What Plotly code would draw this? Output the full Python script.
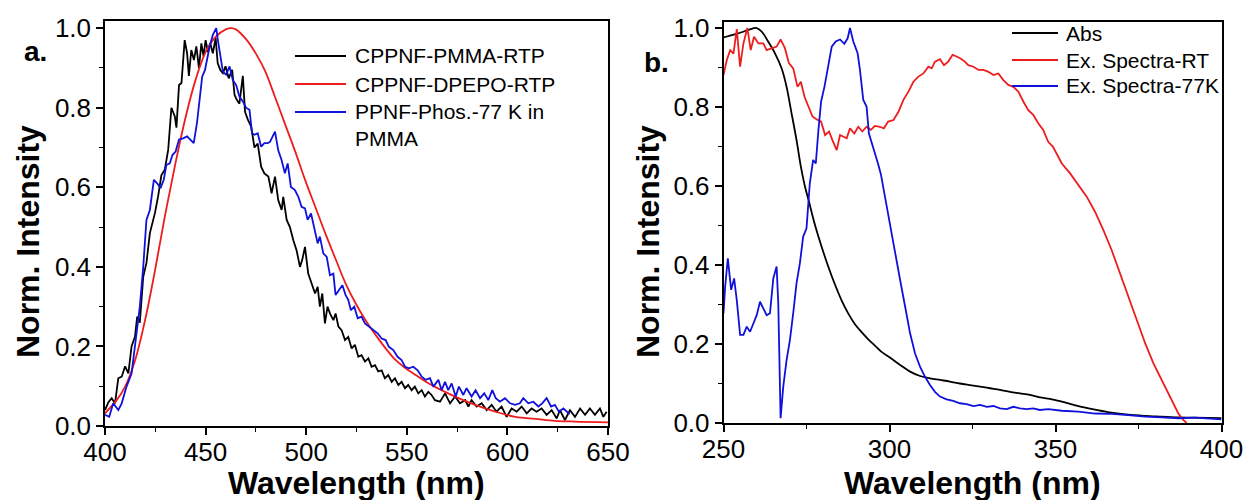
import plotly.graph_objects as go

# ---------------- Panel a (emission) ----------------
A_PMMA_RTP = [(400,0.04),(401.7,0.06),(403.3,0.07),(405,0.057),(406.6,0.12),(408.3,0.124),(410,0.15),(411.6,0.132),
 (413.2,0.20),(414.9,0.225),(416,0.275),(417.3,0.26),(419,0.375),(420.6,0.41),(422.3,0.485),(423.6,0.51),(424.8,0.535),
 (426.4,0.577),(428,0.63),(429.7,0.644),(431.4,0.694),(433,0.80),(434.7,0.778),(435.5,0.75),(436.8,0.857),(438,0.862),
 (439.6,0.97),(440.8,0.937),(441.7,0.88),(442.9,0.945),(444.2,0.92),(445.4,0.954),(446.7,0.90),(447.9,0.962),(449,0.929),
 (450,0.97),(451.2,0.94),(452.3,0.962),(453.6,0.937),(455,0.975),(456,0.912),(457.3,0.895),(458.6,0.887),(459.9,0.904),
 (461.5,0.874),(463.2,0.895),(464.4,0.832),(465.5,0.82),(466.8,0.81),(468.5,0.88),(469.6,0.79),(471,0.77),(472.6,0.753),
 (474.3,0.70),(475.9,0.71),(477.6,0.652),(479.2,0.635),(481.2,0.627),(482.8,0.585),(484.5,0.627),(486.1,0.568),
 (487.8,0.543),(488.6,0.576),(490.3,0.518),(491.9,0.50),(493.6,0.467),(495.2,0.442),(496.9,0.40),(498,0.417),(499.4,0.45),
 (501,0.383),(502.7,0.358),(504.4,0.333),(505.7,0.35),(506.8,0.30),(508,0.333),(509.3,0.258),(510.6,0.30),(511.8,0.283),
 (513.5,0.266),(514.6,0.283),(516,0.25),(517.6,0.241),(519.3,0.216),(520.9,0.224),(522.6,0.195),(524.2,0.204),
 (525.9,0.174),(527.5,0.178),(529.2,0.162),(530.9,0.17),(532.5,0.149),(534.2,0.153),(535.8,0.137),(537.5,0.14),
 (539.1,0.12),(540.8,0.128),(542.5,0.111),(544.1,0.12),(545.8,0.103),(547.4,0.111),(549.1,0.095),(550.7,0.103),
 (552.4,0.09),(554,0.099),(555.7,0.082),(557.4,0.09),(559,0.074),(560.7,0.086),(562.3,0.078),(564,0.065),(566.5,0.061),
 (569,0.082),(571.5,0.057),(574,0.074),(576.4,0.057),(579,0.065),(580.6,0.049),(582.2,0.065),(584.7,0.049),(587.2,0.057),
 (589.7,0.04),(592.2,0.053),(594.6,0.036),(597.1,0.049),(599.6,0.023),(602.1,0.044),(604.6,0.036),(607.1,0.049),
 (609.6,0.032),(612,0.044),(614.5,0.036),(617,0.044),(619.5,0.028),(622,0.04),(624.5,0.019),(626.1,0.04),(628.6,0.015),
 (631.1,0.04),(633.6,0.023),(636.1,0.044),(638.6,0.028),(641,0.044),(643.5,0.028),(646,0.044),(647.7,0.023),(649.3,0.036)]

A_DPEPO_RTP = [(400,0.032),(405.8,0.065),(410,0.099),(415,0.166),(420,0.268),(425,0.395),(430,0.534),(435,0.66),
 (440,0.775),(445,0.87),(450,0.94),(455,0.978),(460,0.997),(463,1.0),(465,0.997),(470,0.973),(475,0.936),(479.5,0.893),
 (484.5,0.827),(489.4,0.76),(494.6,0.689),(499.5,0.618),(504.5,0.551),(509.5,0.484),(514.5,0.421),(519.6,0.358),
 (524.6,0.308),(529.5,0.266),(534.5,0.229),(539.5,0.195),(544.4,0.166),(549.4,0.145),(554.4,0.128),(559.5,0.111),
 (564.5,0.097),(574,0.074),(584,0.053),(594,0.036),(604,0.023),(614,0.018),(623.6,0.013),(633.6,0.011),(650,0.009)]

A_PHOS_77K = [(400,0.028),(402.1,0.023),(404.1,0.057),(406.6,0.04),(408.3,0.057),(410.7,0.099),(413.2,0.132),
 (415.7,0.241),(417.3,0.30),(419,0.40),(420.6,0.518),(422.3,0.543),(424.3,0.619),(425.9,0.61),(427.6,0.598),(429.2,0.619),
 (430.5,0.656),(432.2,0.66),(433.5,0.681),(435.1,0.69),(436.8,0.72),(438.8,0.723),(440.8,0.728),(442.4,0.72),(444.1,0.711),
 (445.7,0.761),(447,0.816),(448.3,0.878),(449.7,0.895),(450.7,0.92),(452,0.954),(453.6,0.983),(455.3,1.0),(456.1,0.97),
 (457.3,0.929),(458.6,0.891),(460.2,0.883),(461.9,0.904),(463.5,0.87),(465.2,0.857),(466.8,0.828),(468.5,0.816),
 (470.1,0.80),(471.8,0.795),(473.1,0.736),(474.3,0.732),(475.9,0.736),(477.6,0.702),(479.2,0.711),(480.9,0.711),
 (482,0.714),(484.5,0.74),(486.1,0.693),(487.8,0.668),(489.4,0.635),(490.8,0.66),(492.4,0.601),(494.4,0.593),
 (496.1,0.576),(497.7,0.551),(499.4,0.547),(500.7,0.518),(502.4,0.534),(504,0.50),(505.7,0.459),(506.8,0.476),
 (508.5,0.434),(510.2,0.425),(511.8,0.379),(513.5,0.383),(514.6,0.329),(516.3,0.342),(518,0.354),(519.6,0.329),
 (520.9,0.317),(522.2,0.291),(523.9,0.30),(525.6,0.271),(527.5,0.275),(529.2,0.258),(531.2,0.25),(533.3,0.241),
 (535.5,0.233),(537.5,0.22),(539.5,0.216),(541.1,0.199),(543.3,0.191),(545.4,0.174),(547.4,0.166),(549.1,0.149),
 (551.1,0.145),(553.2,0.149),(555.4,0.14),(557.4,0.124),(559.4,0.116),(561.5,0.12),(563.2,0.099),(565.7,0.116),
 (567.3,0.09),(569,0.111),(570.6,0.09),(572.3,0.107),(574.3,0.074),(575.9,0.099),(578.1,0.078),(579.7,0.095),
 (582.2,0.074),(584.2,0.09),(586.4,0.07),(588.5,0.082),(590.5,0.065),(592.5,0.09),(594.2,0.07),(596.3,0.061),
 (598.8,0.07),(601.3,0.057),(603.8,0.053),(606.2,0.057),(607.9,0.07),(610.4,0.057),(612.9,0.061),(615.4,0.049),
 (617.3,0.057),(619.5,0.07),(621.7,0.049),(623.6,0.053),(625.6,0.036),(627.8,0.044),(629.9,0.036),(631,0.03)]

# ---------------- Panel b (absorption / excitation) ----------------
B_ABS = [(250,0.976),(252.5,0.982),(255,0.988),(257.5,0.995),(260,1.0),(261.5,0.991),(263.5,0.965),(265.5,0.936),
 (267.5,0.898),(269,0.851),(270.5,0.784),(272,0.716),(273.3,0.649),(274.5,0.60),(275.6,0.565),(277.6,0.50),
 (279.6,0.445),(281.6,0.395),(283.6,0.35),(285.6,0.31),(287.6,0.277),(289.6,0.25),(291.6,0.23),(293.6,0.212),
 (295.6,0.196),(297.6,0.18),(300.2,0.165),(303.2,0.147),(306.2,0.13),(309.2,0.119),(312.2,0.113),(315.2,0.109),
 (318.2,0.105),(321.2,0.10),(324.2,0.096),(327.3,0.092),(330.3,0.088),(333.3,0.084),(336.3,0.079),(339.3,0.075),
 (342.3,0.071),(345.3,0.065),(348.3,0.061),(351.9,0.054),(356.9,0.043),(361.9,0.034),(366.9,0.026),(371.9,0.021),
 (377,0.018),(382,0.016),(387,0.014),(392,0.0135),(400,0.012)]

B_EX_RT = [(250,0.881),(251,0.919),(252,0.944),(253,0.935),(254,0.997),(255,0.902),(256,0.961),(257.2,1.0),(258.2,0.944),
 (259.2,0.978),(260.5,0.961),(262,0.961),(263,0.944),(264.5,0.949),(266,0.953),(267.2,0.971),(268.5,0.949),(269.7,0.911),
 (271,0.898),(272.3,0.851),(273.3,0.864),(274.4,0.826),(275.6,0.801),(276.8,0.776),(278,0.769),(279.4,0.763),
 (280.6,0.729),(281.8,0.738),(282.8,0.716),(284.1,0.691),(285.1,0.729),(286.1,0.725),(287.1,0.721),(288.1,0.746),
 (289.4,0.733),(290.6,0.75),(291.8,0.738),(293.1,0.75),(294.4,0.742),(295.6,0.752),(297.1,0.75),(298.3,0.746),
 (299.6,0.763),(301.2,0.767),(302.7,0.788),(304.2,0.818),(305.7,0.839),(307.2,0.864),(308.7,0.877),(310.2,0.885),
 (311.7,0.902),(312.7,0.898),(313.7,0.915),(315.2,0.921),(316.4,0.906),(317.7,0.915),(319,0.932),(320.2,0.928),
 (321.4,0.923),(322.7,0.915),(323.7,0.906),(325.3,0.902),(326.8,0.894),(328.3,0.894),(329.8,0.889),(331.3,0.881),
 (332.8,0.885),(334.3,0.868),(335.8,0.856),(337.3,0.851),(338.8,0.839),(340.3,0.814),(341.8,0.792),(343.3,0.78),
 (344.8,0.759),(346.3,0.742),(347.8,0.712),(349.2,0.70),(351.9,0.657),(354.4,0.632),(356.9,0.603),(359.4,0.573),
 (361.9,0.535),(364.4,0.489),(366.9,0.438),(369.4,0.379),(371.9,0.32),(374.4,0.261),(377,0.202),(379.5,0.151),
 (382,0.109),(384.5,0.067),(387,0.024),(388.5,0.008),(389.5,0.0)]

B_EX_77K = [(250,0.278),(250.5,0.345),(251.3,0.417),(252.3,0.337),(253.2,0.366),(254,0.311),(255,0.223),(256,0.223),
 (257,0.244),(258,0.231),(259,0.252),(260,0.273),(261,0.307),(262,0.29),(263,0.273),(264,0.278),(265,0.366),(266,0.396),
 (266.5,0.303),(267.2,0.012),(268,0.092),(269,0.159),(270,0.21),(271,0.278),(272,0.354),(273,0.404),(274,0.472),
 (275,0.493),(276,0.607),(277,0.666),(277.8,0.657),(278.6,0.742),(279.4,0.814),(280.4,0.851),(281.6,0.902),(282.6,0.953),
 (283.8,0.966),(285.1,0.971),(286.4,0.96),(287.4,0.974),(288.1,1.0),(289.1,0.966),(290.4,0.936),(291.1,0.894),
 (292.1,0.818),(293.1,0.801),(293.8,0.733),(294.6,0.712),(295.6,0.687),(296.6,0.655),(297.4,0.63),(298.6,0.573),
 (300.2,0.497),(301.7,0.43),(303.2,0.362),(304.7,0.295),(306.2,0.227),(307.7,0.176),(309.2,0.143),(310.7,0.117),
 (312.2,0.096),(313.7,0.079),(315.2,0.067),(317.2,0.06),(319.2,0.056),(321.2,0.05),(323.2,0.048),(325.3,0.043),
 (327.3,0.046),(329.3,0.041),(331.3,0.043),(333.3,0.037),(335.3,0.035),(337.3,0.041),(339.3,0.037),(341.3,0.035),
 (343.3,0.037),(345.3,0.033),(347.8,0.035),(351.9,0.031),(356.9,0.029),(361.9,0.024),(366.9,0.023),(371.9,0.02),
 (377,0.016),(382,0.014),(387,0.012),(392,0.0135),(400,0.009)]

LEGEND_A = ["CPPNF-PMMA-RTP", "CPPNF-DPEPO-RTP", "PPNF-Phos.-77 K in<br>PMMA"]
LEGEND_B = ["Abs", "Ex. Spectra-RT", "Ex. Spectra-77K"]
X_TICKS_A = [400, 450, 500, 550, 600, 650]
X_TICKS_B = [250, 300, 350, 400]
Y_TICKS = [0.0, 0.2, 0.4, 0.6, 0.8, 1.0]

BLACK, RED, BLUE = "#000000", "#ee1c1c", "#1010dd"
FONT = "Liberation Sans, Arial, sans-serif"

def xs(p):
    return [a for a, _ in p]

def ys(p):
    return [b for _, b in p]

fig = go.Figure()
series_a = [(A_PMMA_RTP, BLACK, "linear"), (A_DPEPO_RTP, RED, "spline"), (A_PHOS_77K, BLUE, "linear")]
for (data, col, shp), name in zip(series_a, LEGEND_A):
    fig.add_trace(go.Scatter(x=xs(data), y=ys(data), mode="lines", name=name, line=dict(color=col, width=1.8, shape=shp),
                             xaxis="x", yaxis="y", showlegend=False))
series_b = [(B_ABS, BLACK, "spline"), (B_EX_RT, RED, "linear"), (B_EX_77K, BLUE, "linear")]
for (data, col, shp), name in zip(series_b, LEGEND_B):
    fig.add_trace(go.Scatter(x=xs(data), y=ys(data), mode="lines", name=name, line=dict(color=col, width=1.8, shape=shp),
                             xaxis="x2", yaxis="y2", showlegend=False))

W, H = 1251, 500
def px(x):
    return x / W
def py(y):
    return 1 - y / H

axis_common = dict(showgrid=False, zeroline=False, showline=True, linecolor="black", linewidth=1.5, mirror=True,
                   ticks="outside", ticklen=7, tickwidth=1.5, tickcolor="black", automargin=False,
                   tickfont=dict(family=FONT, size=26, color="black"))
minor_common = dict(ticks="outside", ticklen=4, tickwidth=1.2, tickcolor="black", showgrid=False)

fig.update_layout(
    template="none",
    width=W, height=H, margin=dict(l=0, r=0, t=0, b=0, autoexpand=False),
    paper_bgcolor="white", plot_bgcolor="white",
    xaxis=dict(domain=[px(105), px(608)], range=[400, 650], tickvals=X_TICKS_A, anchor="y", ticklabelstandoff=-5,
               minor=dict(dtick=25, tick0=400, **minor_common), **axis_common),
    yaxis=dict(domain=[py(426), py(21)], range=[0, 1.018], tickvals=Y_TICKS, tickformat=".1f", anchor="x",
               minor=dict(dtick=0.1, tick0=0, **minor_common), **axis_common),
    xaxis2=dict(domain=[px(723.5), px(1221.5)], range=[250, 400], tickvals=X_TICKS_B, anchor="y2", ticklabelstandoff=-5,
                minor=dict(dtick=25, tick0=250, **minor_common), **axis_common),
    yaxis2=dict(domain=[py(423), py(21.7)], range=[0, 1.016], tickvals=Y_TICKS, tickformat=".1f", anchor="x2",
                minor=dict(dtick=0.1, tick0=0, **minor_common), **axis_common),
    showlegend=False,
)

ann = []
title_font = dict(family=FONT, size=32, color="black")
for xc in (356.5, 972.5):
    ann.append(dict(text="<b>Wavelength (nm)</b>", x=px(xc), y=py(483), xref="paper", yref="paper",
                    xanchor="center", yanchor="middle", showarrow=False, font=title_font))
for xc in (28, 648):
    ann.append(dict(text="<b>Norm. Intensity</b>", x=px(xc), y=py(242), xref="paper", yref="paper", textangle=-90,
                    xanchor="center", yanchor="middle", showarrow=False, font=title_font))
ann.append(dict(text="<b>a.</b>", x=px(35), y=py(52), xref="paper", yref="paper", xanchor="center", yanchor="middle",
                showarrow=False, font=dict(family=FONT, size=28, color="black")))
ann.append(dict(text="<b>b.</b>", x=px(657), y=py(62), xref="paper", yref="paper", xanchor="center", yanchor="middle",
                showarrow=False, font=dict(family=FONT, size=28, color="black")))

shapes = []
leg_font = dict(family=FONT, size=21, color="black")
# legend a
for (label, col), yrow in zip(zip(LEGEND_A, [BLACK, RED, BLUE]), [56, 84, 112]):
    shapes.append(dict(type="line", xref="paper", yref="paper", x0=px(295), x1=px(346), y0=py(yrow), y1=py(yrow),
                       line=dict(color=col, width=1.8)))
    if "<br>" in label:
        ann.append(dict(text=label, x=px(353), y=py(yrow - 14), xref="paper", yref="paper", xanchor="left",
                        yanchor="top", align="left", showarrow=False, font=leg_font))
    else:
        ann.append(dict(text=label, x=px(353), y=py(yrow), xref="paper", yref="paper", xanchor="left",
                        yanchor="middle", showarrow=False, font=leg_font))
# legend b
for (label, col), yrow in zip(zip(LEGEND_B, [BLACK, RED, BLUE]), [33, 60, 86]):
    shapes.append(dict(type="line", xref="paper", yref="paper", x0=px(1012), x1=px(1058), y0=py(yrow), y1=py(yrow),
                       line=dict(color=col, width=1.8)))
    ann.append(dict(text=label, x=px(1064), y=py(yrow), xref="paper", yref="paper", xanchor="left",
                    yanchor="middle", showarrow=False, font=leg_font))

fig.update_layout(annotations=ann, shapes=shapes)
fig.write_html("out.html")
